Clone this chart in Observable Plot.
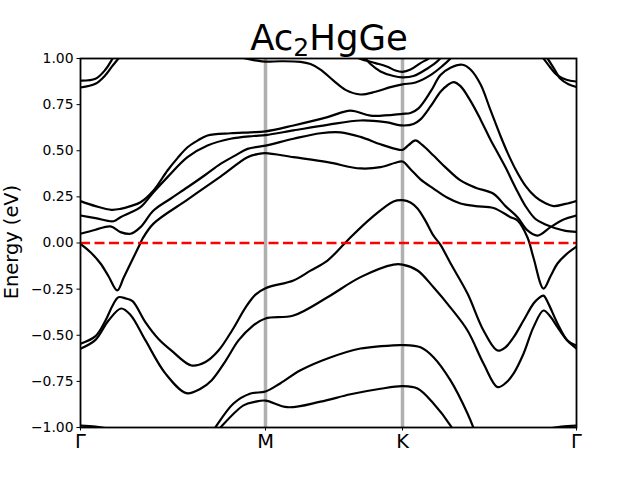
<!DOCTYPE html>
<html>
<head>
<meta charset="utf-8">
<script src="https://cdn.jsdelivr.net/npm/d3@7"></script>
<script src="https://cdn.jsdelivr.net/npm/@observablehq/plot@0.6"></script>
<style>
  body { margin: 0; background: white; }
</style>
</head>
<body>
<div id="chart"></div>
<script>
// high-symmetry points (k-path distance, arbitrary units)
const kTicks = [0, 1.85, 3.22, 4.96];
const kLabels = ["Γ", "M", "K", "Γ"];
const yTicks = [-1, -0.75, -0.5, -0.25, 0, 0.25, 0.5, 0.75, 1];
const title = { base: "Ac", sub: "2", rest: "HgGe" };
const yLabel = "Energy (eV)";

// bands: [k, E (eV)]
const bandDeepL = [[0,-0.99],[0.15,-0.995],[0.3,-1.01],[0.4,-1.03]];
const bandDeepR = [[4.56,-1.03],[4.66,-1.01],[4.81,-0.995],[4.96,-0.99]];
const bandLowA = [[1.32,-1.02],[1.35,-0.998],[1.53,-0.87],[1.70,-0.816],[1.85,-0.805],[2.00,-0.76],[2.20,-0.69],[2.47,-0.626],[2.80,-0.572],[3.20,-0.553],[3.22,-0.553],[3.40,-0.565],[3.53,-0.619],[3.70,-0.745],[3.87,-0.924],[3.95,-1.03]];
const bandLowB = [[1.37,-1.02],[1.40,-1.0],[1.63,-0.88],[1.75,-0.86],[1.85,-0.854],[2.07,-0.89],[2.40,-0.86],[2.70,-0.82],[3.00,-0.79],[3.22,-0.776],[3.37,-0.789],[3.53,-0.87],[3.70,-0.99],[3.73,-1.02]];
const bandVA = [[0,-0.546],[0.15,-0.505],[0.25,-0.42],[0.32,-0.34],[0.38,-0.294],[0.45,-0.30],[0.52,-0.315],[0.65,-0.43],[0.78,-0.52],[0.91,-0.583],[1.11,-0.664],[1.25,-0.645],[1.38,-0.583],[1.52,-0.47],[1.65,-0.35],[1.75,-0.28],[1.85,-0.245],[2.13,-0.203],[2.30,-0.15],[2.47,-0.095],[2.67,0.014],[2.90,0.132],[3.13,0.225],[3.22,0.232],[3.30,0.22],[3.37,0.187],[3.45,0.12],[3.53,0.04],[3.60,-0.01],[3.70,-0.11],[3.87,-0.274],[4.03,-0.474],[4.17,-0.583],[4.25,-0.565],[4.33,-0.512],[4.43,-0.42],[4.53,-0.328],[4.58,-0.30],[4.63,-0.285],[4.68,-0.33],[4.77,-0.436],[4.87,-0.528],[4.96,-0.556]];
const bandVB = [[0,-0.573],[0.15,-0.525],[0.28,-0.42],[0.407,-0.355],[0.50,-0.39],[0.65,-0.528],[0.85,-0.708],[1.06,-0.814],[1.20,-0.79],[1.31,-0.745],[1.45,-0.64],[1.58,-0.528],[1.72,-0.45],[1.85,-0.409],[2.13,-0.393],[2.47,-0.294],[2.80,-0.185],[3.13,-0.117],[3.22,-0.117],[3.37,-0.149],[3.53,-0.24],[3.70,-0.35],[3.87,-0.474],[4.03,-0.653],[4.17,-0.781],[4.25,-0.76],[4.33,-0.708],[4.43,-0.6],[4.53,-0.456],[4.63,-0.366],[4.70,-0.40],[4.77,-0.456],[4.87,-0.53],[4.96,-0.572]];
const bandFermi = [[0,-0.005],[0.10,-0.05],[0.20,-0.111],[0.28,-0.18],[0.367,-0.257],[0.43,-0.19],[0.50,-0.111],[0.60,0.0],[0.62,0.023],[0.73,0.105],[1.07,0.235],[1.40,0.36],[1.67,0.465],[1.78,0.483],[1.85,0.487],[2.13,0.465],[2.47,0.438],[2.80,0.404],[3.00,0.411],[3.15,0.435],[3.22,0.442],[3.30,0.40],[3.40,0.345],[3.53,0.295],[3.67,0.245],[3.80,0.214],[3.95,0.20],[4.13,0.19],[4.30,0.14],[4.37,0.122],[4.47,0.03],[4.53,-0.08],[4.63,-0.247],[4.70,-0.18],[4.77,-0.111],[4.86,-0.06],[4.96,-0.02]];
const bandC = [[0,0.05],[0.15,0.072],[0.30,0.09],[0.40,0.059],[0.50,0.05],[0.60,0.086],[0.73,0.176],[0.90,0.24],[1.07,0.302],[1.25,0.37],[1.40,0.429],[1.55,0.475],[1.67,0.51],[1.85,0.528],[2.13,0.565],[2.40,0.595],[2.60,0.6],[2.80,0.575],[3.00,0.535],[3.15,0.51],[3.22,0.505],[3.28,0.53],[3.35,0.556],[3.42,0.53],[3.53,0.474],[3.65,0.41],[3.80,0.339],[3.95,0.30],[4.13,0.267],[4.25,0.2],[4.37,0.14],[4.47,0.068],[4.57,0.04],[4.70,0.086],[4.82,0.125],[4.96,0.149]];
const bandB = [[0,0.149],[0.15,0.135],[0.33,0.118],[0.40,0.14],[0.50,0.165],[0.60,0.194],[0.73,0.275],[0.87,0.357],[1.07,0.465],[1.27,0.528],[1.50,0.565],[1.73,0.58],[1.85,0.585],[2.13,0.61],[2.47,0.64],[2.80,0.664],[3.05,0.655],[3.22,0.637],[3.33,0.645],[3.40,0.67],[3.50,0.74],[3.60,0.82],[3.67,0.855],[3.73,0.872],[3.80,0.85],[3.90,0.77],[4.00,0.67],[4.10,0.56],[4.17,0.49],[4.25,0.41],[4.35,0.3],[4.45,0.2],[4.55,0.13],[4.65,0.1],[4.75,0.08],[4.85,0.066],[4.96,0.06]];
const bandA = [[0,0.227],[0.15,0.2],[0.31,0.18],[0.40,0.185],[0.50,0.2],[0.60,0.221],[0.73,0.285],[0.87,0.393],[0.97,0.46],[1.07,0.519],[1.17,0.555],[1.27,0.583],[1.50,0.595],[1.70,0.6],[1.85,0.605],[2.13,0.637],[2.47,0.682],[2.70,0.718],[2.90,0.69],[3.22,0.70],[3.30,0.705],[3.38,0.73],[3.50,0.82],[3.60,0.91],[3.70,0.95],[3.82,0.966],[3.90,0.94],[4.00,0.86],[4.10,0.72],[4.20,0.58],[4.27,0.49],[4.35,0.4],[4.45,0.31],[4.55,0.25],[4.65,0.215],[4.73,0.2],[4.85,0.212],[4.96,0.228]];
const bandP = [[1.55,1.02],[1.65,1.0],[1.75,0.99],[1.85,0.983],[2.00,0.985],[2.20,0.982],[2.30,0.97],[2.40,0.94],[2.53,0.88],[2.65,0.83],[2.80,0.805],[2.95,0.82],[3.10,0.845],[3.22,0.86],[3.35,0.87],[3.50,0.91],[3.62,0.96],[3.70,1.0],[3.73,1.02]];
const bandU1 = [[2.70,1.02],[2.80,0.998],[2.95,0.975],[3.07,0.955],[3.15,0.935],[3.22,0.928],[3.30,0.94],[3.40,0.975],[3.48,1.0],[3.52,1.02]];
const bandU2 = [[2.82,1.02],[2.90,0.97],[3.00,0.93],[3.13,0.905],[3.22,0.898],[3.33,0.905],[3.47,0.946],[3.58,0.99],[3.62,1.02]];
const bandTopL1 = [[0,0.88],[0.15,0.89],[0.25,0.94],[0.31,0.99],[0.34,1.02]];
const bandTopL2 = [[0,0.843],[0.15,0.863],[0.25,0.91],[0.31,0.953],[0.38,1.0],[0.41,1.02]];
const bandTopR1 = [[4.60,1.02],[4.63,1.0],[4.70,0.95],[4.77,0.908],[4.86,0.885],[4.96,0.875]];
const bandTopR2 = [[4.64,1.02],[4.67,1.0],[4.73,0.95],[4.80,0.89],[4.88,0.86],[4.96,0.845]];

const bands = [bandDeepL, bandDeepR, bandLowA, bandLowB, bandVA, bandVB, bandFermi, bandC, bandB, bandA, bandP, bandU1, bandU2, bandTopL1, bandTopL2, bandTopR1, bandTopR2];

const svg = Plot.plot({
  width: 640,
  height: 480,
  marginLeft: 80,
  marginRight: 64,
  marginTop: 58,
  marginBottom: 53,
  x: { domain: [0, 4.96] },
  y: { domain: [-1, 1] },
  style: { fontFamily: "DejaVu Sans", background: "white", color: "black" },
  marks: [
    Plot.ruleX(kTicks.slice(1, 3), { stroke: "#b0b0b0", strokeWidth: 3.5 }),
    ...bands.map(b => Plot.line(b, { x: d => d[0], y: d => d[1], stroke: "black", strokeWidth: 2.2, curve: "catmull-rom", clip: true })),
    Plot.ruleY([0], { stroke: "#ff0000", strokeWidth: 2.5, strokeDasharray: "10,4.5" }),
    Plot.axisY({ ticks: yTicks, tickFormat: d3.format(".2f"), tickSize: 3.5, tickPadding: 3.5, fontSize: 13.9, label: null }),
    Plot.axisX({ ticks: kTicks, tickFormat: d => kLabels[kTicks.indexOf(d)], tickSize: 3.5, tickPadding: 3, fontSize: 19.4, label: null }),
    Plot.frame({ stroke: "black", strokeWidth: 1.8 })
  ]
});
document.getElementById("chart").appendChild(svg);

const s = d3.select(svg);
const t = s.append("text")
  .attr("x", 329).attr("y", 50)
  .attr("text-anchor", "middle")
  .attr("font-family", "DejaVu Sans")
  .attr("font-size", 35.5)
  .attr("fill", "black");
t.append("tspan").text(title.base);
t.append("tspan").attr("font-size", 25).attr("dy", 6).text(title.sub);
t.append("tspan").attr("dy", -6).text(title.rest);

s.append("text")
  .attr("transform", "translate(18,242) rotate(-90)")
  .attr("text-anchor", "middle")
  .attr("font-family", "DejaVu Sans")
  .attr("font-size", 19.4)
  .attr("fill", "black")
  .text(yLabel);
</script>
</body>
</html>
